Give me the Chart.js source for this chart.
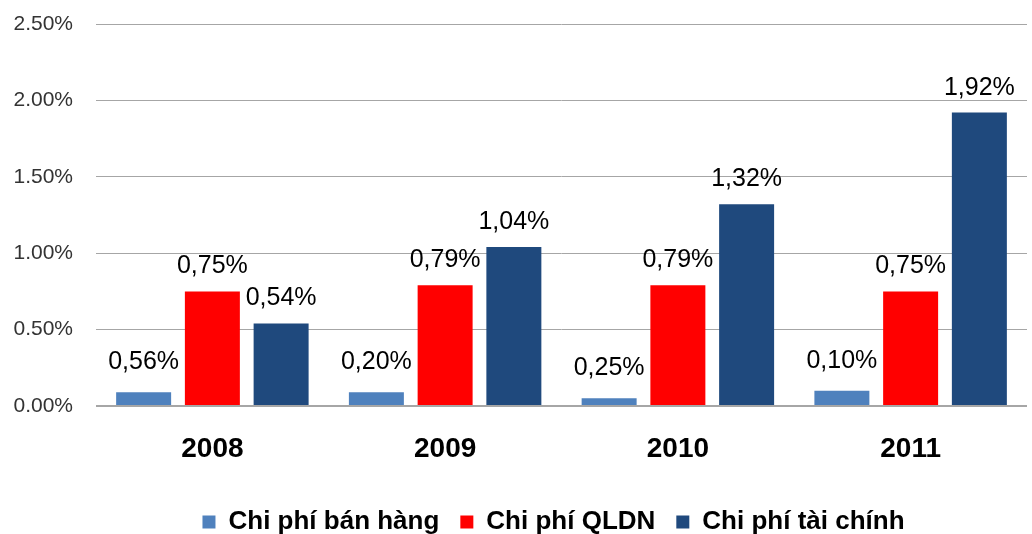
<!DOCTYPE html>
<html lang="vi">
<head>
<meta charset="UTF-8">
<title>Chi phí</title>
<script src="https://cdn.jsdelivr.net/npm/chart.js@4/dist/chart.umd.min.js"></script>
<style>
  html, body { margin: 0; padding: 0; background: #ffffff; }
  #wrap { width: 1032px; height: 534px; position: relative; }
</style>
</head>
<body>
<div id="wrap"><canvas id="chart_canvas"></canvas></div>

<script>
// data (percent units)
var years = ['2008', '2009', '2010', '2011'];

var banHang = [0.09, 0.09, 0.05, 0.10];       // bar heights as drawn
var banHangText = [0.56, 0.20, 0.25, 0.10];   // values printed above them
var qldn = [0.75, 0.79, 0.79, 0.75];
var taiChinh = [0.54, 1.04, 1.32, 1.92];

var yTicks = [0, 0.5, 1.0, 1.5, 2.0, 2.5];

var fontFamily = "'Liberation Sans', Arial, sans-serif";

function vnPercent(v) {
    return v.toFixed(2).replace('.', ',') + '%';
}

// draws the value above each bar
var valueLabels = {
    id: 'valueLabels',
    afterDatasetsDraw: function (chart) {
        var ctx = chart.ctx;
        ctx.save();
        ctx.font = '25px ' + fontFamily;
        ctx.fillStyle = '#000000';
        ctx.textAlign = 'center';
        ctx.textBaseline = 'middle';
        chart.data.datasets.forEach(function (ds, i) {
            var meta = chart.getDatasetMeta(i);
            var texts = ds.labelValues || ds.data;
            meta.data.forEach(function (bar, j) {
                ctx.fillText(vnPercent(texts[j]), bar.x, bar.y - ds.labelOffset);
            });
        });
        ctx.restore();
    }
};

// the legend row sits a little right of centre and low in the picture
var legendNudge = {
    id: 'legendNudge',
    afterLayout: function (chart) {
        var lg = chart.legend;
        if (!lg) return;
        var h = lg.bottom - lg.top;
        lg.left += 40;
        lg.right += 40;
        lg.top = 488;
        lg.bottom = lg.top + h;
    }
};

window._chart = new Chart(document.getElementById('chart_canvas'), {
    type: 'bar',
    plugins: [valueLabels, legendNudge],
    data: {
        labels: years,
        datasets: [
            {
                label: 'Chi phí bán hàng',
                data: banHang,
                labelValues: banHangText,
                labelOffset: 30,
                backgroundColor: '#4f81bd'
            },
            {
                label: 'Chi phí QLDN',
                data: qldn,
                labelOffset: 25,
                backgroundColor: '#ff0000'
            },
            {
                label: 'Chi phí tài chính',
                data: taiChinh,
                labelOffset: 25,
                backgroundColor: '#1f497d'
            }
        ]
    },
    options: {
        responsive: true,
        maintainAspectRatio: false,
        animation: false,
        datasets: {
            bar: {
                categoryPercentage: 0.886,
                barPercentage: 0.8
            }
        },
        layout: {
            padding: { top: 0, right: 5, left: 0, bottom: 0 }
        },
        plugins: {
            tooltip: { enabled: false },
            legend: {
                position: 'bottom',
                labels: {
                    boxWidth: 13,
                    boxHeight: 13,
                    padding: 21,
                    color: '#000000',
                    font: { family: fontFamily, size: 26, weight: 'bold' }
                }
            }
        },
        scales: {
            x: {
                grid: { display: false },
                border: { display: false },
                afterFit: function (axis) {
                    axis.height = 71;
                },
                ticks: {
                    color: '#000000',
                    padding: 18,
                    font: { family: fontFamily, size: 28, weight: 'bold' }
                }
            },
            y: {
                min: 0,
                max: 2.5,
                afterBuildTicks: function (axis) {
                    axis.ticks = yTicks.map(function (v) { return { value: v }; });
                },
                afterFit: function (axis) {
                    axis.width = 96;
                    axis.paddingTop = 24;
                    axis.paddingBottom = 0;
                },
                border: { display: false },
                grid: {
                    color: '#a6a6a6',
                    lineWidth: function (c) { return c.tick && c.tick.value === 0 ? 2 : 1; },
                    drawTicks: false
                },
                ticks: {
                    color: '#333333',
                    padding: 23,
                    font: { family: fontFamily, size: 21 },
                    callback: function (v) { return Number(v).toFixed(2) + '%'; }
                }
            }
        }
    }
});
</script>
</body>
</html>
